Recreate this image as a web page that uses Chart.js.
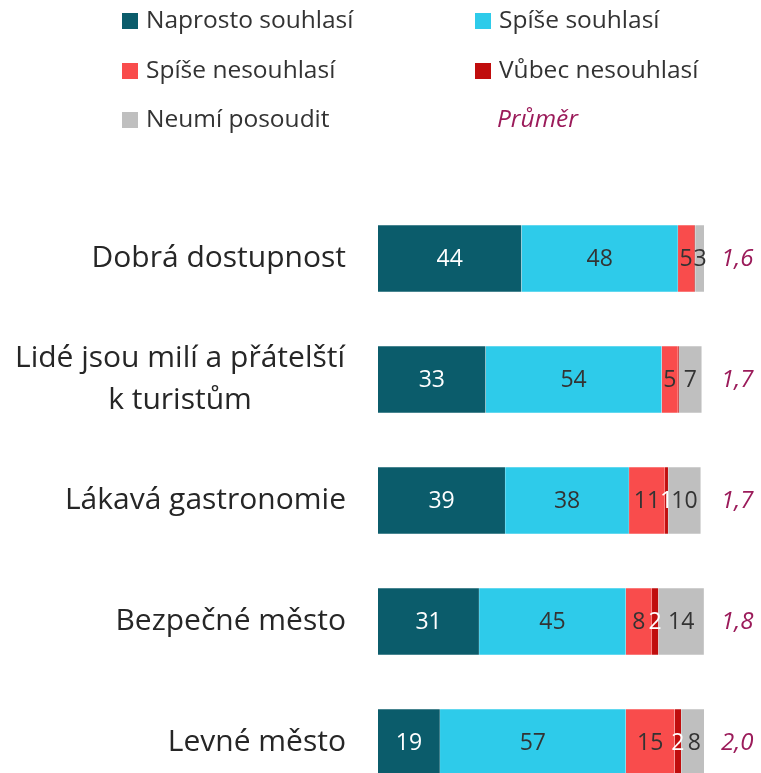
<!DOCTYPE html>
<html>
<head>
<meta charset="utf-8">
<script src="https://cdn.jsdelivr.net/npm/chart.js@4"></script>
<style>
  html, body { margin: 0; padding: 0; overflow: hidden; background: #fff; }
  #wrap { position: relative; width: 761px; height: 773px; }
  #legend { position: absolute; left: 0; top: 0; width: 761px; font-family: "Open Sans", "Noto Sans", sans-serif; font-size: 24.5px; color: #333; }
  .item { position: absolute; white-space: nowrap; line-height: 32px; }
  .box { display: inline-block; width: 16px; height: 16px; margin-right: 8px; vertical-align: -1px; }
  canvas { position: absolute; left: 0; top: 0; }
</style>
</head>
<body>
<div id="wrap">
  <canvas id="chart" width="761" height="803"></canvas>
  <div id="legend"></div>
</div>
<script>
// data
const categories = [
    ['Dobrá dostupnost'],
    ['Lidé jsou milí a přátelští', 'k turistům'],
    ['Lákavá gastronomie'],
    ['Bezpečné město'],
    ['Levné město']
];
const seriesNames = ['Naprosto souhlasí', 'Spíše souhlasí', 'Spíše nesouhlasí', 'Vůbec nesouhlasí', 'Neumí posoudit'];
const naprosto = [44, 33, 39, 31, 19];
const spise = [48, 54, 38, 45, 57];
const spiseNe = [5, 5, 11, 8, 15];
const vubecNe = [0.3, 0.3, 1, 2, 2];
const neumi = [3, 7, 10, 14, 8];
const prumer = ['1,6', '1,7', '1,7', '1,8', '2,0'];

const colors = ['#0b5c6b', '#2ecbea', '#f94c4c', '#c00d0d', '#bfbfbf'];
const labelColors = ['#ffffff', '#333333', '#333333', '#ffffff', '#333333'];
const avgColor = '#9b1b5a';
const FONT = '"Open Sans", "Noto Sans", sans-serif';

// legenda v HTML
const legendPos = [[122, 3], [475, 3], [122, 53], [475, 53], [122, 102]];
const legend = document.getElementById('legend');
seriesNames.forEach((n, i) => {
    const d = document.createElement('div');
    d.className = 'item';
    d.style.left = legendPos[i][0] + 'px';
    d.style.top = legendPos[i][1] + 'px';
    d.innerHTML = '<span class="box" style="background:' + colors[i] + '"></span>' + n;
    legend.appendChild(d);
});
const avg = document.createElement('div');
avg.className = 'item';
avg.style.left = '497px';
avg.style.top = '102px';
avg.style.fontStyle = 'italic';
avg.style.color = avgColor;
avg.textContent = 'Průměr';
legend.appendChild(avg);

// popisky hodnot, kategorií a průměru
const labelsPlugin = {
    id: 'labels',
    afterDatasetsDraw(chart) {
        const ctx = chart.ctx;
        ctx.save();
        ctx.textBaseline = 'middle';
        chart.data.datasets.forEach((ds, di) => {
            const meta = chart.getDatasetMeta(di);
            meta.data.forEach((bar, i) => {
                const v = ds.data[i];
                if (v < 1) return;
                ctx.font = '23px ' + FONT;
                ctx.fillStyle = labelColors[di];
                ctx.textAlign = 'center';
                ctx.fillText(String(v), (bar.x + bar.base) / 2, bar.y + 1);
            });
        });
        const y = chart.scales.y;
        categories.forEach((lines, i) => {
            const cy = y.getPixelForValue(i);
            ctx.font = '30px ' + FONT;
            ctx.fillStyle = '#262626';
            if (lines.length === 1) {
                ctx.textAlign = 'right';
                ctx.fillText(lines[0], 346, cy);
            } else {
                ctx.textAlign = 'center';
                ctx.fillText(lines[0], 180, cy - 21);
                ctx.fillText(lines[1], 180, cy + 21);
            }
            ctx.font = 'italic 24px ' + FONT;
            ctx.fillStyle = avgColor;
            ctx.textAlign = 'left';
            ctx.fillText(prumer[i], 721, cy + 1);
        });
        ctx.restore();
    }
};

function renderChart() {
    const ctx = document.getElementById('chart').getContext('2d');
    const sets = [naprosto, spise, spiseNe, vubecNe, neumi];
    new Chart(ctx, {
        type: 'bar',
        data: {
            labels: categories.map(c => c.join(' ')),
            datasets: sets.map((d, i) => ({
                label: seriesNames[i],
                data: d,
                backgroundColor: colors[i],
                borderColor: 'rgba(255,255,255,0.6)',
                borderWidth: 0.5,
                barThickness: 67,
                categoryPercentage: 1
            }))
        },
        options: {
            indexAxis: 'y',
            responsive: false,
            animation: false,
            layout: { padding: { left: 378, right: 57, top: 198, bottom: 0 } },
            scales: {
                x: { stacked: true, min: 0, max: 100, display: false },
                y: { stacked: true, display: false }
            },
            plugins: {
                legend: { display: false },
                tooltip: { enabled: false }
            }
        },
        plugins: [labelsPlugin]
    });
}

document.addEventListener('DOMContentLoaded', renderChart);
</script>
</body>
</html>
